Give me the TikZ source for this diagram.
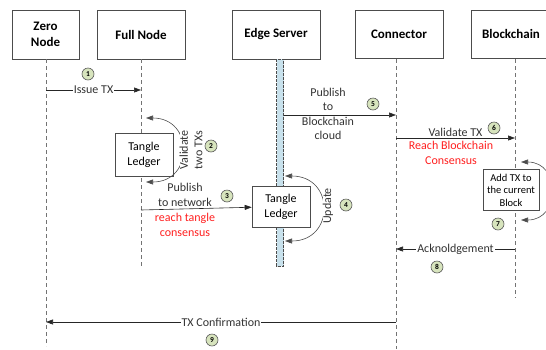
\documentclass[tikz,border=0pt]{standalone}
\usepackage{fontspec}
\setmainfont{Carlito}
\usetikzlibrary{arrows.meta}
\definecolor{stepfill}{HTML}{D7E4BD}
\definecolor{barfill}{HTML}{C8E1EC}
\definecolor{consred}{HTML}{FF1F1F}

\begin{document}
\begin{tikzpicture}[x=1pt,y=-1pt,line width=0.6pt,
   actor/.style={draw=black!70,minimum height=49pt,align=center,inner sep=0pt,
                 font=\fontsize{13}{15.5}\bfseries\selectfont},
   life/.style={black!55,dash pattern=on 4pt off 3pt},
   msg/.style={black!85,-{Triangle[length=7pt,width=5pt]}},
   selfarr/.style={black!70,{Triangle[length=7pt,width=5pt]}-{Triangle[length=7pt,width=5pt]}},
   lbl/.style={align=center,text=black!80,inner sep=1pt,font=\fontsize{12}{14.5}\selectfont},
   onl/.style={lbl,fill=white},
   cons/.style={lbl,text=consred},
   ledger/.style={draw=black!70,fill=white,align=center,inner sep=0pt,
                  font=\fontsize{12}{15}\selectfont},
   num/.style={circle,draw=black!65,fill=stepfill,inner sep=0pt,minimum size=12pt,
               font=\fontsize{7.5}{8}\bfseries\selectfont}]
   \useasboundingbox (0,0) rectangle (546,349);
   % actors
   \node[actor,minimum width=67pt] (zero)  at (45.5,34.5) {Zero\\Node};
   \node[actor,minimum width=88pt] (full)  at (141,34.5)  {Full Node};
   \node[actor,minimum width=88pt] (edge)  at (276,34.5)  {Edge Server};
   \node[actor,minimum width=88pt,minimum height=48pt] (conn)  at (399,34) {Connector};
   \node[actor,minimum width=80pt,minimum height=48pt] (chain) at (511,34) {Blockchain};
   % life lines
   \foreach \x/\b in {46/346,141/266,396/349,515/298}
      \draw[life] (\x,59) -- (\x,\b);
   \filldraw[fill=barfill,draw=black!70,dash pattern=on 3pt off 1pt] (276.5,59) rectangle (283.5,266);
   % ledgers and blocks
   \node[ledger,minimum width=58pt,minimum height=43pt] (fledger) at (144,154.5) {Tangle\\Ledger};
   \node[ledger,minimum width=58pt,minimum height=41pt] (eledger) at (281,206.5) {Tangle\\Ledger};
   \node[ledger,minimum width=56pt,minimum height=41pt,font=\fontsize{10.5}{12.5}\selectfont]
        (block) at (511,190) {Add TX to\\the current\\Block};
   % message ends
   \coordinate (z1) at (46,90);   \coordinate (f1) at (141,90);
   \coordinate (f2a) at (146,118); \coordinate (f2b) at (146,182);
   \coordinate (f3) at (141,210);
   \coordinate (e4a) at (285,176); \coordinate (e4b) at (285,241);
   \coordinate (e5) at (283.5,115); \coordinate (c5) at (396,115);
   \coordinate (c6) at (396,138); \coordinate (b6) at (515,138);
   \coordinate (b7a) at (521,162); \coordinate (b7b) at (521,220);
   \coordinate (b8) at (515,249); \coordinate (c8) at (396,249);
   \coordinate (c9) at (396,322); \coordinate (z9) at (46,322);
   % messages
   \draw[msg] (z1) -- node[onl] {Issue TX} (f1);
   \draw[selfarr] (f2a) .. controls +(48,0) and +(48,0) .. (f2b);
   \node[lbl,rotate=90,fill=white,inner sep=0pt] at (191,150) {Validate\\two TXs};
   \draw[msg] (f3) -- (eledger);
   \node[lbl] at (185,195) {Publish\\to network};
   \node[cons] at (185,225) {reach tangle\\consensus};
   \draw[selfarr] (e4a) .. controls +(50,0) and +(50,0) .. (e4b);
   \node[lbl,rotate=90,fill=white,inner sep=0pt] at (328,206) {Update};
   \draw[msg] (e5) -- (c5);
   \node[lbl] at (328,114) {Publish\\to\\Blockchain\\cloud};
   \draw[msg] (c6) -- node[lbl,above] {Validate TX} (b6);
   \node[cons] at (451,153) {Reach Blockchain\\Consensus};
   \draw[selfarr] (b7a) .. controls +(40,0) and +(40,0) .. (b7b);
   \draw[msg] (b8) -- node[onl] {Acknoldgement} (c8);
   \draw[msg] (c9) -- node[onl] {TX Confirmation} (z9);
   % step numbers
   \foreach \n/\p in {1/{88,74},2/{211,146},3/{227,196},4/{346,205},5/{373,104},
                      6/{494,128},7/{498,224},8/{437,267},9/{212,340}}
      \node[num] (s\n) at (\p) {\n};
\end{tikzpicture}
\end{document}
